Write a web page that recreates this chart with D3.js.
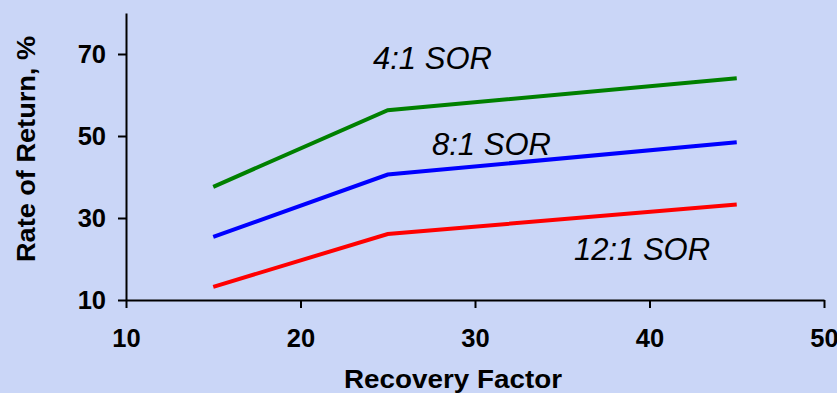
<!DOCTYPE html>
<html>
<head>
<meta charset="utf-8">
<script src="https://cdn.jsdelivr.net/npm/d3@7"></script>
<style>
  html, body { margin: 0; padding: 0; background: #CAD6F7; }
  svg { display: block; }
  .tick text { font-family: Arial, "Liberation Sans", sans-serif; font-weight: bold; }
</style>
</head>
<body>
<script>
// Recovery factor (x) values shared by all series
const recoveryFactor = [15, 25, 45];

// Rate of return (%) for each solvent-to-oil ratio
const sor4 = [37.6, 56.3, 64.1];
const sor8 = [25.4, 40.6, 48.5];
const sor12 = [13.2, 26.1, 33.3];

const seriesNames = ["4:1 SOR", "8:1 SOR", "12:1 SOR"];
const seriesColors = ["#008000", "#0000FF", "#FF0000"];

const xTicks = [10, 20, 30, 40, 50];
const yTicks = [10, 30, 50, 70];

const width = 837, height = 393;
const margin = { left: 126, right: 13, top: 13, bottom: 93 };
const fontFamily = "Arial, 'Liberation Sans', sans-serif";

const svg = d3.select("body").append("svg")
  .attr("width", width)
  .attr("height", height);

const x = d3.scaleLinear().domain([10, 50]).range([margin.left, width - margin.right]);
const y = d3.scaleLinear().domain([10, 80]).range([height - margin.bottom, margin.top]);

// Axes
const xAxis = svg.append("g")
  .attr("transform", `translate(0,${y(10)})`)
  .call(d3.axisBottom(x).tickValues(xTicks).tickSize(8).tickPadding(21).tickSizeOuter(0));
const yAxis = svg.append("g")
  .attr("transform", `translate(${x(10)},0)`)
  .call(d3.axisLeft(y).tickValues(yTicks).tickSize(8).tickPadding(12).tickSizeOuter(0));

[xAxis, yAxis].forEach(g => {
  g.select(".domain").attr("stroke", "#000").attr("stroke-width", 2);
  g.selectAll(".tick line").attr("stroke", "#000").attr("stroke-width", 2);
  g.selectAll(".tick text").attr("fill", "#000").attr("font-size", 25.5);
});
xAxis.selectAll(".tick text").attr("dy", "0.71em");

// Axis titles
svg.append("text")
  .attr("x", 453).attr("y", 388)
  .attr("text-anchor", "middle")
  .attr("font-family", fontFamily)
  .attr("font-weight", "bold").attr("font-size", 25)
  .attr("textLength", 218).attr("lengthAdjust", "spacingAndGlyphs")
  .text("Recovery Factor");

svg.append("text")
  .attr("transform", `translate(35,149) rotate(-90)`)
  .attr("text-anchor", "middle")
  .attr("font-family", fontFamily)
  .attr("font-weight", "bold").attr("font-size", 26)
  .attr("textLength", 226).attr("lengthAdjust", "spacingAndGlyphs")
  .text("Rate of Return, %");

// Series lines
const line = d3.line()
  .x((d, i) => x(recoveryFactor[i]))
  .y(d => y(d));

[sor4, sor8, sor12].forEach((vals, i) => {
  svg.append("path")
    .datum(vals)
    .attr("fill", "none")
    .attr("stroke", seriesColors[i])
    .attr("stroke-width", 4)
    .attr("stroke-linejoin", "miter")
    .attr("d", line);
});

// Series labels
const labelPos = [
  { x: 373, y: 69 },
  { x: 432, y: 155 },
  { x: 574, y: 260 }
];
seriesNames.forEach((name, i) => {
  svg.append("text")
    .attr("x", labelPos[i].x).attr("y", labelPos[i].y)
    .attr("font-family", fontFamily)
    .attr("font-style", "italic").attr("font-size", 31)
    .attr("fill", "#000")
    .text(name);
});
</script>
</body>
</html>
